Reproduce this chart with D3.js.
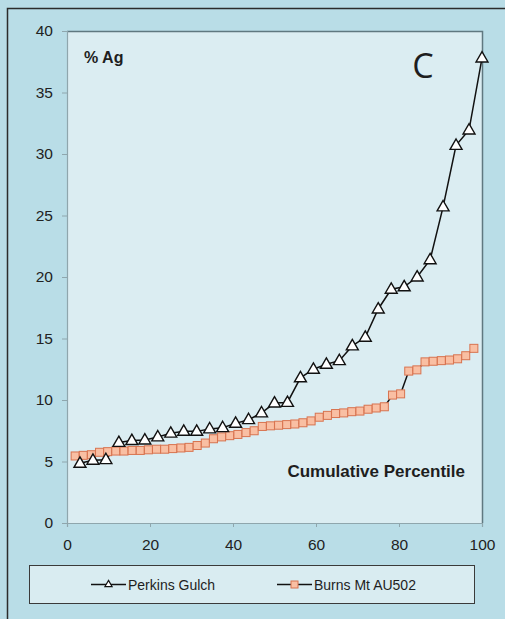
<!DOCTYPE html>
<html>
<head>
<meta charset="utf-8">
<script src="https://cdn.jsdelivr.net/npm/d3@7"></script>
<style>
  html, body { margin: 0; padding: 0; background: #b8dce6; }
  svg { display: block; }
</style>
</head>
<body>
<svg id="chart" width="505" height="619"></svg>
<script>
// ---- data ----
const perkinsPct = [3.125, 6.25, 9.375, 12.5, 15.625, 18.75, 21.875, 25, 28.125, 31.25, 34.375, 37.5, 40.625, 43.75, 46.875, 50,
  53.125, 56.25, 59.375, 62.5, 65.625, 68.75, 71.875, 75, 78.125, 81.25, 84.375, 87.5, 90.625, 93.75, 96.875, 100];
const perkinsAg = [4.85, 5.1, 5.15, 6.55, 6.7, 6.75, 7.0, 7.3, 7.45, 7.45, 7.65, 7.75, 8.1, 8.4, 8.95, 9.75,
  9.8, 11.8, 12.5, 12.9, 13.2, 14.4, 15.1, 17.4, 19.0, 19.2, 20.0, 21.4, 25.7, 30.7, 31.95, 37.8];
const burnsPct = [1.96, 3.92, 5.88, 7.84, 9.8, 11.76, 13.73, 15.69, 17.65, 19.61, 21.57, 23.53, 25.49, 27.45, 29.41, 31.37,
  33.33, 35.29, 37.25, 39.22, 41.18, 43.14, 45.1, 47.06, 49.02, 50.98, 52.94, 54.9, 56.86, 58.82, 60.78, 62.75,
  64.71, 66.67, 68.63, 70.59, 72.55, 74.51, 76.47, 78.43, 80.39, 82.35, 84.31, 86.27, 88.24, 90.2, 92.16, 94.12, 96.08, 98.04];
const burnsAg = [5.45, 5.5, 5.55, 5.75, 5.8, 5.85, 5.85, 5.9, 5.9, 5.95, 6.0, 6.0, 6.05, 6.1, 6.15, 6.3,
  6.5, 6.85, 7.0, 7.1, 7.2, 7.35, 7.5, 7.85, 7.9, 7.95, 8.0, 8.05, 8.15, 8.3, 8.6, 8.75,
  8.9, 8.95, 9.05, 9.1, 9.25, 9.35, 9.45, 10.4, 10.5, 12.35, 12.45, 13.1, 13.15, 13.2, 13.25, 13.35, 13.6, 14.2];
const xTicks = [0, 20, 40, 60, 80, 100];
const yTicks = [0, 5, 10, 15, 20, 25, 30, 35, 40];
const seriesNames = ["Perkins Gulch", "Burns Mt AU502"];
const yLabel = "% Ag";
const xLabel = "Cumulative Percentile";
const panelLetter = "C";

// ---- layout ----
const svg = d3.select("#chart");
const W = 505, H = 619;
const plot = { left: 67, right: 482, top: 31, bottom: 523 };
const x = d3.scaleLinear().domain([0, 100]).range([plot.left, plot.right]);
const y = d3.scaleLinear().domain([0, 40]).range([plot.bottom, plot.top]);
const font = "Liberation Sans, Arial, sans-serif";

// background
svg.append("rect").attr("x", 0).attr("y", 0).attr("width", W).attr("height", H).attr("fill", "#b8dce6");
// outer frame (extends past the picture on right/bottom)
svg.append("rect").attr("x", 7.5).attr("y", 8.5).attr("width", W + 20).attr("height", H + 20)
  .attr("fill", "#b9dde7").attr("stroke", "#2b2b2b").attr("stroke-width", 1.5);

// plot area
svg.append("rect").attr("x", plot.left).attr("y", plot.top)
  .attr("width", plot.right - plot.left).attr("height", plot.bottom - plot.top)
  .attr("fill", "#dbedf2");
// top & right border
svg.append("path")
  .attr("d", `M${plot.left},${plot.top + 0.5}H${plot.right + 0.5}V${plot.bottom}`)
  .attr("fill", "none").attr("stroke", "#5f7880").attr("stroke-width", 1.5);

// axes
const yAxis = d3.axisLeft(y).tickValues(yTicks).tickSize(5).tickPadding(9).tickFormat(d3.format("d"));
const gy = svg.append("g").attr("transform", `translate(${plot.left},0)`).call(yAxis);
const xAxis = d3.axisBottom(x).tickValues(xTicks).tickSize(4).tickPadding(12).tickFormat(d3.format("d"));
const gx = svg.append("g").attr("transform", `translate(0,${plot.bottom})`).call(xAxis);
[gy, gx].forEach(g => {
  g.select(".domain").attr("stroke", "#8fa6ad").attr("stroke-width", 1.2);
  g.selectAll(".tick line").attr("stroke", "#8fa6ad");
  g.selectAll(".tick text").attr("fill", "#222").style("font-family", font).style("font-size", "15.5px");
});

// lines
const line = d3.line().x(d => x(d[0])).y(d => y(d[1]));
const burnsData = burnsPct.map((p, i) => [p, burnsAg[i]]);
const perkinsData = perkinsPct.map((p, i) => [p, perkinsAg[i]]);

svg.append("path").datum(burnsData).attr("d", line)
  .attr("fill", "none").attr("stroke", "#111").attr("stroke-width", 1.5);
svg.append("path").datum(perkinsData).attr("d", line)
  .attr("fill", "none").attr("stroke", "#111").attr("stroke-width", 1.5);

// markers
const sq = 8;
svg.append("g").selectAll("rect").data(burnsData).join("rect")
  .attr("x", d => x(d[0]) - sq / 2).attr("y", d => y(d[1]) - sq / 2)
  .attr("width", sq).attr("height", sq)
  .attr("fill", "#f9bfa3").attr("stroke", "#d8734f").attr("stroke-width", 1);

const tri = d3.symbol().type(d3.symbolTriangle).size(62);
svg.append("g").selectAll("path").data(perkinsData).join("path")
  .attr("d", tri)
  .attr("transform", d => `translate(${x(d[0])},${y(d[1]) + 0.5})`)
  .attr("fill", "#ffffff").attr("stroke", "#111").attr("stroke-width", 1.4);

// texts in plot
svg.append("text").attr("x", 84).attr("y", 63).text(yLabel)
  .style("font-family", font).style("font-size", "16px").style("font-weight", "bold").attr("fill", "#1e1e1e");
svg.append("text").attr("x", 423).attr("y", 78).attr("text-anchor", "middle").text(panelLetter)
  .style("font-family", "Open Sans, sans-serif").style("font-size", "34px").attr("fill", "#1e1e1e");
svg.append("text").attr("x", 465).attr("y", 477).attr("text-anchor", "end").text(xLabel)
  .style("font-family", font).style("font-size", "17px").style("font-weight", "bold").attr("fill", "#1e1e1e");

// legend
svg.append("rect").attr("x", 29.5).attr("y", 565.5).attr("width", 445).attr("height", 38)
  .attr("fill", "#d9ecf1").attr("stroke", "#3a3a3a").attr("stroke-width", 1);
const leg = [
  { name: seriesNames[0], x0: 91, type: "tri" },
  { name: seriesNames[1], x0: 277, type: "sq" }
];
const ly = 584.5;
leg.forEach(l => {
  svg.append("line").attr("x1", l.x0).attr("x2", l.x0 + 35).attr("y1", ly).attr("y2", ly)
    .attr("stroke", "#111").attr("stroke-width", 1.5);
  if (l.type === "tri") {
    svg.append("path").attr("d", d3.symbol().type(d3.symbolTriangle).size(22))
      .attr("transform", `translate(${l.x0 + 17.5},${ly})`)
      .attr("fill", "#fff").attr("stroke", "#111").attr("stroke-width", 1.2);
  } else {
    svg.append("rect").attr("x", l.x0 + 14).attr("y", ly - 3.5).attr("width", 7).attr("height", 7)
      .attr("fill", "#f9bfa3").attr("stroke", "#d8734f");
  }
  svg.append("text").attr("x", l.x0 + 37).attr("y", ly + 5).text(l.name)
    .style("font-family", font).style("font-size", "14px").attr("fill", "#1e1e1e");
});
</script>
</body>
</html>
